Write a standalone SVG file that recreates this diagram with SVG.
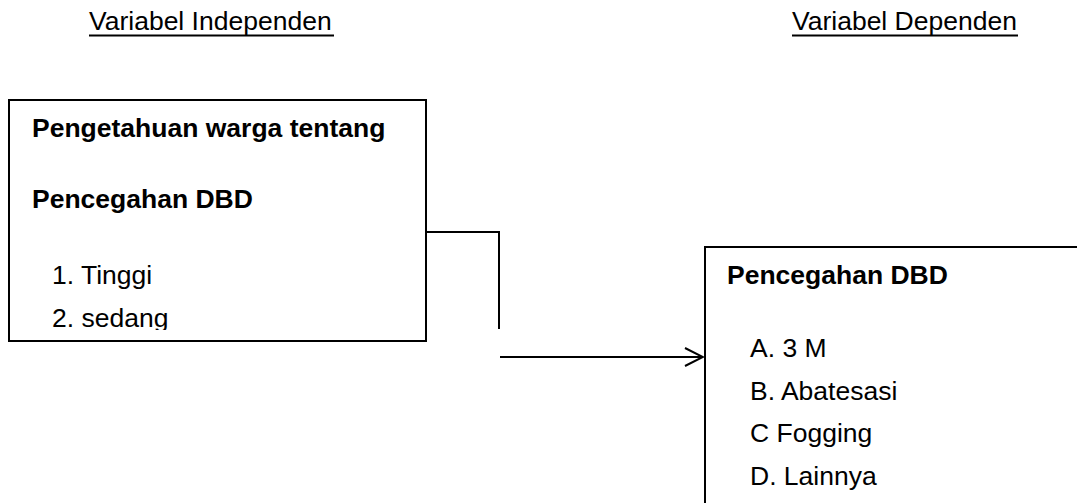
<svg xmlns="http://www.w3.org/2000/svg" width="1077" height="503" viewBox="0 0 1077 503">
<style>
text{font-family:"Liberation Sans",Arial,sans-serif;font-size:26.5px;fill:#000}
.b{font-weight:bold}
.box{fill:#fff;stroke:#000;stroke-width:2}
.ln{fill:none;stroke:#000;stroke-width:2}
</style>
<defs>
<marker id="arr" viewBox="0 0 20 20" refX="19" refY="10" markerWidth="20" markerHeight="20" markerUnits="userSpaceOnUse" orient="auto">
<path d="M1,1 L19,10 L1,19" fill="none" stroke="#000" stroke-width="2"/>
</marker>
<clipPath id="clipL"><rect x="10" y="101" width="415" height="229"/></clipPath>
</defs>
<g id="headers">
<text x="89" y="30">Variabel Independen</text>
<line class="ln" x1="89" y1="35.5" x2="334" y2="35.5"/>
<text x="792" y="30">Variabel Dependen</text>
<line class="ln" x1="792" y1="35.5" x2="1018" y2="35.5"/>
</g>
<g id="independen">
<rect class="box" x="9" y="100" width="417" height="241"/>
<g clip-path="url(#clipL)">
<text class="b" x="32" y="137">Pengetahuan warga tentang</text>
<text class="b" x="32" y="208">Pencegahan DBD</text>
<text x="52" y="284">1. Tinggi</text>
<text x="52" y="327">2. sedang</text>
</g>
</g>
<g id="dependen">
<rect class="box" x="705" y="247" width="400" height="300"/>
<text class="b" x="727" y="283.5">Pencegahan DBD</text>
<text x="750" y="357">A. 3 M</text>
<text x="750" y="399.5">B. Abatesasi</text>
<text x="750" y="442">C Fogging</text>
<text x="750" y="484.5">D. Lainnya</text>
</g>
<g id="connectors">
<polyline class="ln" points="426,232 499,232 499,329"/>
<line class="ln" x1="500" y1="357" x2="703" y2="357" marker-end="url(#arr)"/>
</g>
</svg>
